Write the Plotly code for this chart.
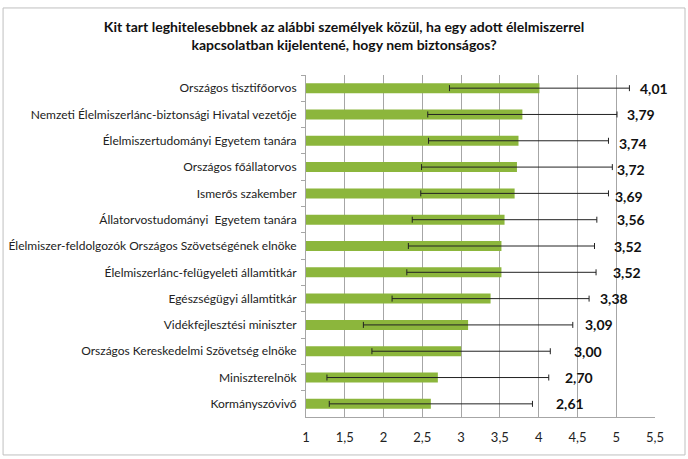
import plotly.graph_objects as go

# survey results: mean score and standard deviation per person
people = [
    "Országos tisztifőorvos",
    "Nemzeti Élelmiszerlánc-biztonsági Hivatal vezetője",
    "Élelmiszertudományi Egyetem tanára",
    "Országos főállatorvos",
    "Ismerős szakember",
    "Állatorvostudományi  Egyetem tanára",
    "Élelmiszer-feldolgozók Országos Szövetségének elnöke",
    "Élelmiszerlánc-felügyeleti államtitkár",
    "Egészségügyi államtitkár",
    "Vidékfejlesztési miniszter",
    "Országos Kereskedelmi Szövetség elnöke",
    "Miniszterelnök",
    "Kormányszóvivő",
]
means = [4.01, 3.79, 3.74, 3.72, 3.69, 3.56, 3.52, 3.52, 3.38, 3.09, 3.00, 2.70, 2.61]
std_devs = [1.16, 1.22, 1.16, 1.23, 1.21, 1.19, 1.20, 1.22, 1.27, 1.35, 1.15, 1.43, 1.31]

# pixel nudges of the value labels, as placed in the original
label_dx = [9, 8, 9, 3, 5, 18, 17, 15, 9, 10, 22, 14, 22]
label_dy = [0, 0, -3, -2, -3, 0, 0, 0, 0, 0, 0, 0, 0]

FONT = "Lato"

fig = go.Figure()
fig.add_trace(
    go.Bar(
        x=means,
        y=people,
        orientation="h",
        marker=dict(color="#8cb63c", line=dict(width=0)),
        width=0.38,
        error_x=dict(
            type="data",
            array=std_devs,
            color="#222222",
            thickness=1,
            width=3,
        ),
        hoverinfo="x+y",
    )
)

for name, m, sd, dx, dy in zip(people, means, std_devs, label_dx, label_dy):
    fig.add_annotation(
        x=m + sd,
        y=name,
        text=f"{m:.2f}".replace(".", ","),
        showarrow=False,
        xanchor="left",
        xshift=dx,
        yshift=dy,
        font=dict(family=FONT, size=14, color="#111111", weight="bold"),
    )

# outer chart frame
fig.add_shape(
    type="rect",
    xref="paper",
    yref="paper",
    x0=-0.868,
    x1=1.086,
    y0=-0.111,
    y1=1.196,
    line=dict(color="#bfbfbf", width=1),
    layer="below",
)

fig.update_layout(
    width=688,
    height=459,
    margin=dict(l=306, r=33, t=75, b=42),
    paper_bgcolor="white",
    plot_bgcolor="white",
    separators=", ",
    showlegend=False,
    title=dict(
        text="Kit tart leghitelesebbnek az alábbi személyek közül, ha egy adott élelmiszerrel<br>"
        "kapcsolatban kijelentené, hogy nem biztonságos?",
        x=0.5,
        xref="container",
        xanchor="center",
        y=0.93,
        yanchor="top",
        font=dict(family=FONT, size=14, color="#111111", weight="bold"),
    ),
    xaxis=dict(
        range=[1, 5.5],
        dtick=0.5,
        automargin=False,
        showgrid=True,
        gridcolor="#a6a6a6",
        gridwidth=1,
        zeroline=False,
        showline=True,
        linecolor="#a6a6a6",
        ticks="",
        ticklabelstandoff=8,
        tickfont=dict(family=FONT, size=13, color="#222222"),
    ),
    yaxis=dict(
        autorange="reversed",
        automargin=False,
        showline=True,
        linecolor="#a6a6a6",
        ticks="outside",
        tickson="boundaries",
        ticklen=4,
        tickcolor="#a6a6a6",
        ticklabelstandoff=6,
        tickfont=dict(family=FONT, size=12, color="#222222"),
    ),
)

# drop the browser's default body margin so the figure fills the window
fig.write_html(
    "out.html",
    config={"displayModeBar": False},
    post_script="document.body.style.margin='0px';",
)
